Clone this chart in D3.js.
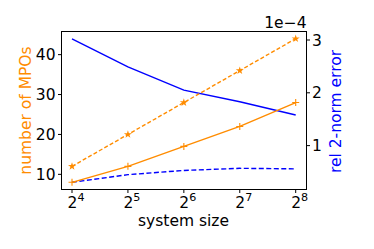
<!DOCTYPE html>
<html><head><meta charset="utf-8">
<script src="https://cdn.jsdelivr.net/npm/d3@7"></script>
<style>body{margin:0;background:#fff}svg{display:block;font-family:"DejaVu Sans",sans-serif}</style>
</head><body><svg id="c" width="374" height="249"></svg>
<script>
const exponents = [4, 5, 6, 7, 8];
const mposDashed = [12, 20, 28, 36, 44];
const mposSolid = [8, 12, 17, 22, 28];
const errSolid = [3.02, 2.49, 2.05, 1.83, 1.58];   // x1e-4
const errDashed = [0.305, 0.45, 0.53, 0.57, 0.56]; // x1e-4
const leftTicks = [10, 20, 30, 40];
const rightTicks = [1, 2, 3];

const svg = d3.select("#c");
const L = 61.5, R = 306.5, T = 31.5, B = 189.5;
const x2 = d3.scaleLinear().domain([4, 8]).range([72, 295.7]);
const yl = d3.scaleLinear().domain([6.2, 45.8]).range([B, T]);
const yr = d3.scaleLinear().domain([0.169, 3.161]).range([B, T]);
const orange = "#ff8c00", blue = "#0000ff";
const fs = 15.5;

function line(ys, sc) {
  return d3.line().x((d, i) => x2(exponents[i])).y(d => sc(d))(ys);
}
svg.append("path").attr("d", line(errSolid, yr)).attr("fill", "none").attr("stroke", blue).attr("stroke-width", 1.4);
svg.append("path").attr("d", line(errDashed, yr)).attr("fill", "none").attr("stroke", blue).attr("stroke-width", 1.4).attr("stroke-dasharray", "5,2.5");
svg.append("path").attr("d", line(mposDashed, yl)).attr("fill", "none").attr("stroke", orange).attr("stroke-width", 1.4).attr("stroke-dasharray", "4,2.2");
svg.append("path").attr("d", line(mposSolid, yl)).attr("fill", "none").attr("stroke", orange).attr("stroke-width", 1.4);

const star = d3.symbol().type(d3.symbolStar).size(20);
svg.selectAll(".st").data(mposDashed).enter().append("path")
  .attr("d", star).attr("transform", (d, i) => `translate(${x2(exponents[i])},${yl(d)})`)
  .attr("fill", orange);
svg.selectAll(".pl").data(mposSolid).enter().append("path")
  .attr("d", "M-3.5,0H3.5M0,-3.5V3.5")
  .attr("transform", (d, i) => `translate(${x2(exponents[i])},${yl(d)})`)
  .attr("stroke", orange).attr("stroke-width", 1.1);

svg.append("rect").attr("x", L).attr("y", T).attr("width", R - L).attr("height", B - T)
  .attr("fill", "none").attr("stroke", "#000").attr("stroke-width", 1);

leftTicks.forEach(v => {
  svg.append("line").attr("x1", L - 3.5).attr("x2", L).attr("y1", yl(v)).attr("y2", yl(v)).attr("stroke", "#000");
  svg.append("text").attr("x", L - 6).attr("y", yl(v)).attr("dy", "0.36em").attr("text-anchor", "end")
    .attr("font-size", fs).text(v);
});
rightTicks.forEach(v => {
  svg.append("line").attr("x1", R).attr("x2", R + 3.5).attr("y1", yr(v)).attr("y2", yr(v)).attr("stroke", "#000");
  svg.append("text").attr("x", R + 5.5).attr("y", yr(v)).attr("dy", "0.36em").attr("text-anchor", "start")
    .attr("font-size", fs).text(v);
});
exponents.forEach(e => {
  svg.append("line").attr("x1", x2(e)).attr("x2", x2(e)).attr("y1", B).attr("y2", B + 3.5).attr("stroke", "#000");
  const t = svg.append("text").attr("x", x2(e) + 4).attr("y", 207.5).attr("text-anchor", "middle").attr("font-size", fs);
  t.append("tspan").text("2");
  t.append("tspan").attr("dy", -6.5).attr("font-size", fs * 0.72).text(e);
});

svg.append("text").attr("x", (L + R) / 2 - 0.5).attr("y", 226).attr("text-anchor", "middle").attr("font-size", fs).text("system size");
svg.append("text").attr("transform", `translate(30.5,${(T + B) / 2}) rotate(-90)`).attr("text-anchor", "middle")
  .attr("font-size", fs).attr("fill", orange).text("number of MPOs");
svg.append("text").attr("transform", `translate(340.5,${(T + B) / 2 + 1}) rotate(-90)`).attr("text-anchor", "middle")
  .attr("font-size", fs).attr("fill", blue).text("rel 2-norm error");
svg.append("text").attr("x", R).attr("y", 28).attr("text-anchor", "end").attr("font-size", fs).text("1e\u22124");
</script></body></html>
